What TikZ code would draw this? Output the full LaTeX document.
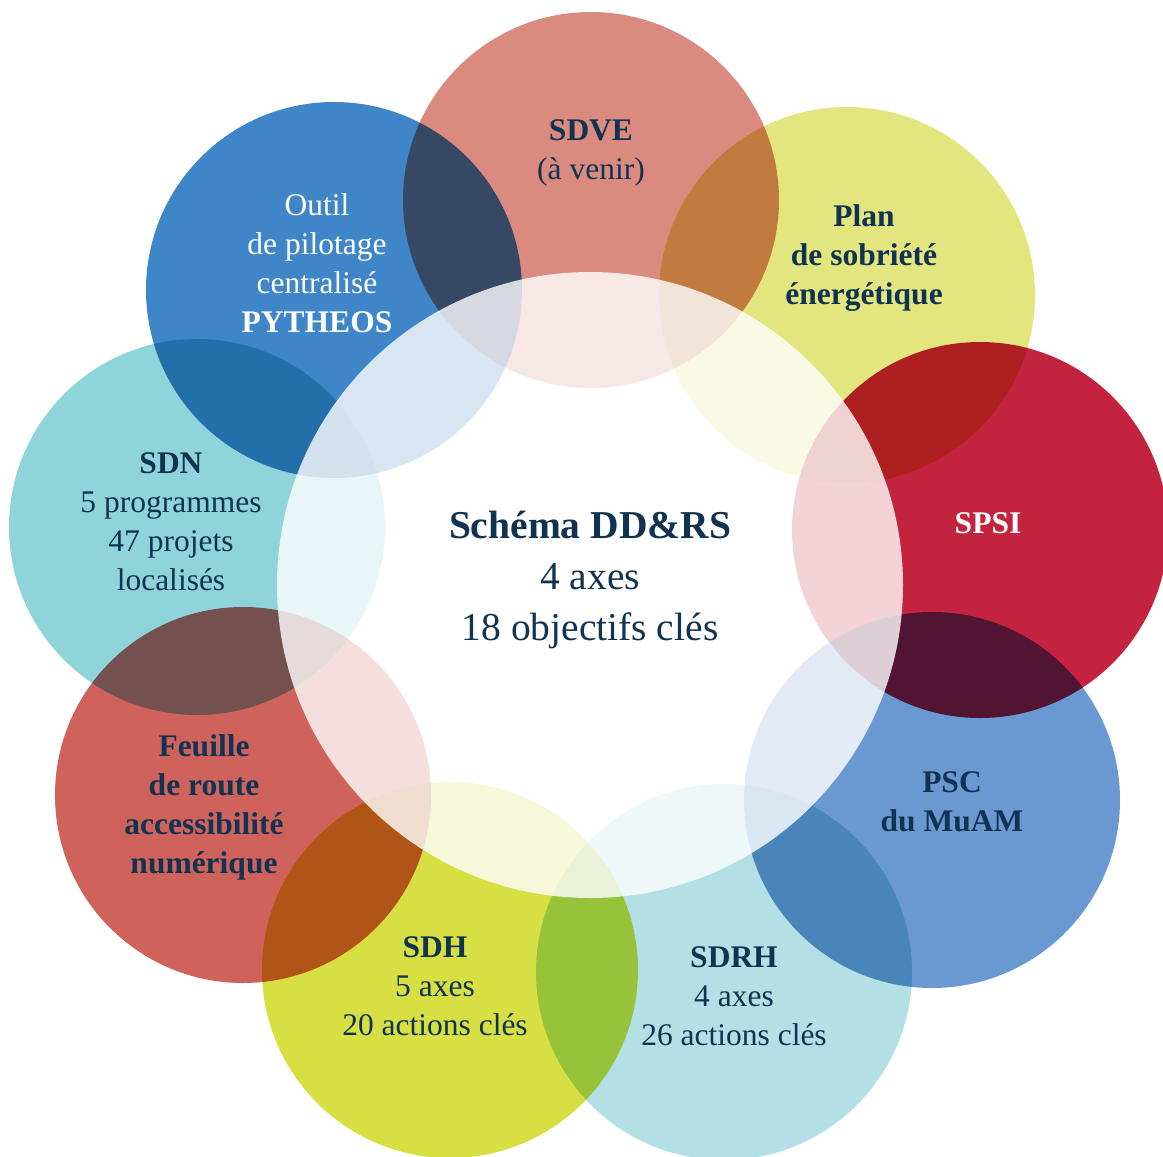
\documentclass[tikz,border=0pt]{standalone}
\usepackage{fontspec}
\setmainfont{Liberation Serif}
\definecolor{ink}{HTML}{0F3351}
\definecolor{sdvecol}{HTML}{DB8A80}
\definecolor{plancol}{HTML}{E3E57F}
\definecolor{spsicol}{HTML}{C4233F}
\definecolor{psccol}{HTML}{6A98D0}
\definecolor{sdrhcol}{HTML}{B3E0E5}
\definecolor{sdhcol}{HTML}{D8DF42}
\definecolor{feuillecol}{HTML}{D0625C}
\definecolor{sdncol}{HTML}{8FD4DA}
\definecolor{outilcol}{HTML}{3F86C8}

\begin{document}
\begin{tikzpicture}[x=1pt,y=-1pt,
    every node/.style={align=center,inner sep=0pt,text=ink,font=\fontsize{31.5}{39}\selectfont},
    disc/.style={blend mode=multiply},
    bigtext/.style={font=\fontsize{39.5}{51}\selectfont}]
    \useasboundingbox (0,0) rectangle (1163,1157);
    % outer circles
    \fill[disc,sdvecol] (591,200) circle (188pt);
    \fill[disc,plancol] (847,295) circle (188pt);
    \fill[disc,spsicol] (980,530) circle (188pt);
    \fill[disc,psccol] (932,800) circle (188pt);
    \fill[disc,sdrhcol] (724,972) circle (188pt);
    \fill[disc,sdhcol] (450,970) circle (188pt);
    \fill[disc,feuillecol] (243,795) circle (188pt);
    \fill[disc,sdncol] (197,527) circle (188pt);
    \fill[disc,outilcol] (334,290) circle (188pt);
    % centre
    \fill[white,opacity=0.8] (590,585) circle (313pt);
    % labels
    \node (centre) at (590,580) [bigtext] {\textbf{Schéma DD\&RS}\\4 axes\\18 objectifs clés};
    \node (sdve) at (591,153) {\textbf{SDVE}\\(à venir)};
    \node (plan) at (864,258) {\textbf{Plan}\\\textbf{de sobriété}\\\textbf{énergétique}};
    \node (spsi) at (988,523) [text=white] {\textbf{SPSI}};
    \node (psc) at (952,802) {\textbf{PSC}\\\textbf{du MuAM}};
    \node (sdrh) at (734,996) {\textbf{SDRH}\\4 axes\\26 actions clés};
    \node (sdh) at (435,986) {\textbf{SDH}\\5 axes\\20 actions clés};
    \node (feuille) at (204,807) {\textbf{Feuille}\\\textbf{de route}\\\textbf{accessibilité}\\\textbf{numérique}};
    \node (sdn) at (171,522) {\textbf{SDN}\\5 programmes\\47 projets\\localisés};
    \node (outil) at (317,263) [text=white] {Outil\\de pilotage\\centralisé\\\textbf{PYTHEOS}};
\end{tikzpicture}
\end{document}
